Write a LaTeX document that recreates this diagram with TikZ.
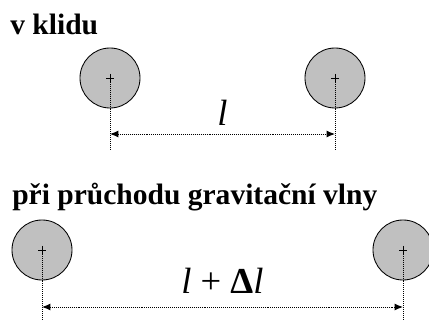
\documentclass[tikz,border=0pt]{standalone}
\usepackage{fontspec}
\setmainfont{Liberation Serif}
\usetikzlibrary{arrows.meta}
\definecolor{massgray}{RGB}{192,192,192}

\begin{document}
\begin{tikzpicture}[x=0.025cm, y=-0.025cm,
    mass/.style={circle, draw=black, line width=0.6pt, fill=massgray,
      minimum size=1.5cm, inner sep=0pt},
    dist/.style={line width=0.7pt, dash pattern=on 0.7pt off 0.7pt},
    title/.style={anchor=base west, inner sep=0pt, font=\fontsize{21}{24}\selectfont\bfseries},
    len/.style={inner sep=0pt, font=\fontsize{26}{30}\selectfont}]
    \useasboundingbox (0,0) rectangle (429,321);

    % at rest
    \node[title] (t1) at (10,35) {v klidu};
    \node[mass] (m1) at (110,78) {};
    \node[mass] (m2) at (335,78) {};
    \coordinate (f1) at (110,150);
    \coordinate (f2) at (335,150);
    \coordinate (a1) at (110,134);
    \coordinate (a2) at (335,134);

    % gravitational wave passing
    \node[title] (t2) at (12,205) {při průchodu gravitační vlny};
    \node[mass] (m3) at (42,250) {};
    \node[mass] (m4) at (403,250) {};
    \coordinate (f3) at (42,320);
    \coordinate (f4) at (403,320);
    \coordinate (a3) at (42,307);
    \coordinate (a4) at (403,307);

    \foreach \m in {m1,m2,m3,m4}{
      \draw[line width=0.7pt] (\m.center) ++(-4,0) -- ++(8,0)
        (\m.center) ++(0,-4) -- ++(0,8);
    }
    \draw[dist] (m1.center) -- (f1);
    \draw[dist] (m2.center) -- (f2);
    \draw[dist] (m3.center) -- (f3);
    \draw[dist] (m4.center) -- (f4);

    \draw[dist, {Latex[length=6pt,width=5pt]}-{Latex[length=6pt,width=5pt]}] (a1) -- node[len, above=6pt] {\textit{l}} (a2);
    \draw[dist, {Latex[length=6pt,width=5pt]}-{Latex[length=6pt,width=5pt]}] (a3) -- node[len, above=9pt] {\textit{l} + \textbf{Δ}\textit{l}} (a4);
\end{tikzpicture}
\end{document}
